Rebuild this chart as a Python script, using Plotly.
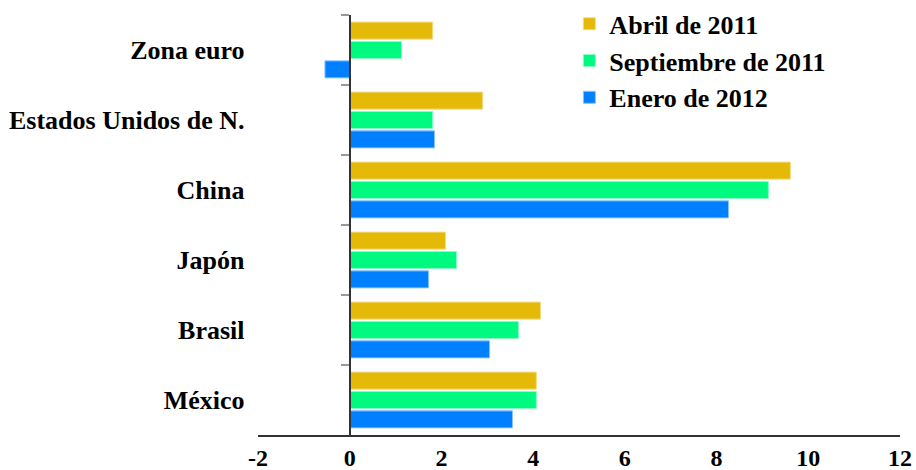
import plotly.graph_objects as go

# Regions, listed top to bottom
regiones = ["Zona euro", "Estados Unidos de N.", "China", "Japón", "Brasil", "México"]

# Values per period
abril_2011 = [1.81, 2.90, 9.61, 2.09, 4.16, 4.07]
septiembre_2011 = [1.13, 1.81, 9.13, 2.33, 3.68, 4.07]
enero_2012 = [-0.54, 1.85, 8.26, 1.72, 3.05, 3.55]

series = [
    ("Abril de 2011", abril_2011, "#E5B908", "#F2DC84"),
    ("Septiembre de 2011", septiembre_2011, "#00FA80", "#8CFDC4"),
    ("Enero de 2012", enero_2012, "#0080FF", "#8CC2FF"),
]

x_ticks = [-2, 0, 2, 4, 6, 8, 10, 12]

FONT = "Liberation Serif, Times New Roman, serif"

fig = go.Figure()
for i, (name, vals, color, edge) in enumerate(series):
    fig.add_trace(go.Bar(
        y=regiones,
        x=vals,
        name=name,
        orientation="h",
        marker=dict(color=color, line=dict(color=edge, width=1)),
        legendgroup=f"g{i}",
    ))

fig.update_layout(
    width=916,
    height=470,
    margin=dict(l=258, r=16, t=15, b=35, autoexpand=False),
    paper_bgcolor="white",
    plot_bgcolor="white",
    barmode="group",
    bargap=0.17,
    bargroupgap=0.12,
    font=dict(family=FONT, size=26, color="black"),
    showlegend=True,
    legend=dict(
        x=0.485, y=1.035, xanchor="left", yanchor="top",
        traceorder="normal",
        tracegroupgap=3,
        font=dict(family=FONT, size=26, color="black", weight="bold"),
        bgcolor="rgba(0,0,0,0)",
    ),
    xaxis=dict(
        range=[-2, 12],
        tickvals=x_ticks,
        ticktext=[str(v) for v in x_ticks],
        showgrid=False,
        zeroline=False,
        showline=True,
        linecolor="#333333",
        linewidth=2,
        ticks="",
        tickfont=dict(family=FONT, size=24, color="black", weight="bold"),
    ),
    yaxis=dict(
        type="category",
        categoryorder="array",
        categoryarray=regiones,
        autorange="reversed",
        anchor="free",
        position=2 / 14,
        showgrid=False,
        zeroline=False,
        showline=True,
        linecolor="#333333",
        linewidth=2,
        ticks="outside",
        tickson="boundaries",
        ticklen=8,
        tickwidth=2,
        tickcolor="#999999",
        ticklabelstandoff=99,
        tickfont=dict(family=FONT, size=26, color="black", weight="bold"),
    ),
)

fig.write_html("out.html")
